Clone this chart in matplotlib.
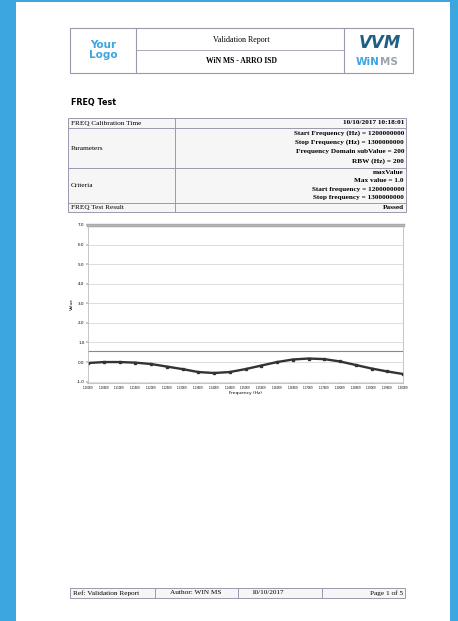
import matplotlib
matplotlib.use("Agg")
from matplotlib import pyplot as plt
from matplotlib.patches import Rectangle
from matplotlib.ticker import MultipleLocator, FuncFormatter

# chart data (frequency in MHz, measured value)
freq_mhz = [1200, 1205, 1210, 1215, 1220, 1225, 1230, 1235, 1240, 1245, 1250,
            1255, 1260, 1265, 1270, 1275, 1280, 1285, 1290, 1295, 1300]
values = [-0.05, 0.0, 0.0, -0.03, -0.10, -0.23, -0.36, -0.51, -0.56, -0.51, -0.36,
          -0.18, 0.0, 0.13, 0.18, 0.15, 0.03, -0.15, -0.33, -0.48, -0.61]
max_limit = 0.56
upper_line = 7.0

# report table text
param_lines = ["Start Frequency (Hz) = 1200000000",
               "Stop Frequency (Hz) = 1300000000",
               "Frequency Domain subValue = 200",
               "RBW (Hz) = 200"]
criteria_lines = ["maxValue", "Max value = 1.0",
                  "Start frequency = 1200000000",
                  "Stop frequency = 1300000000"]
footer_cells = ["Ref: Validation Report", "Author: WIN MS", "10/10/2017", "", "Page 1 of 5"]

W, H = 458, 621
BLUE = "#3ba6e0"
EDGE = "#9a9aae"

fig = plt.figure(figsize=(W / 100, H / 100), dpi=100)
fig.patch.set_facecolor(BLUE)

# page drawn in pixel coordinates
page = fig.add_axes([0, 0, 1, 1])
page.set_xlim(0, W)
page.set_ylim(H, 0)
page.axis("off")
page.add_patch(Rectangle((16, 2), 434, H, facecolor="white", edgecolor="none"))

serif = "Liberation Serif"
fs = 5.2

# header block
page.add_patch(Rectangle((70, 28), 343, 45, facecolor="none", edgecolor=EDGE, lw=0.8))
page.plot([136, 136], [28, 73], color=EDGE, lw=0.8)
page.plot([344, 344], [28, 73], color=EDGE, lw=0.8)
page.plot([136, 344], [50, 50], color=EDGE, lw=0.6)
page.text(103, 50, "Your\nLogo", color=BLUE, fontsize=7.5, fontweight="bold",
          ha="center", va="center", linespacing=1.1)
page.text(241, 40, "Validation Report", fontsize=5.8, family=serif, ha="center", va="center")
page.text(241, 61, "WiN MS - ARRO ISD", fontsize=5.5, family=serif, fontweight="bold",
          ha="center", va="center")
page.text(380, 43, "VVM", color="#1f5f86", fontsize=12, fontweight="heavy",
          fontstyle="italic", ha="center", va="center")
page.text(380, 62, "WiN", color=BLUE, fontsize=7.5, fontweight="bold", ha="right", va="center")
page.text(380, 62, "MS", color="#9aa4ad", fontsize=7.5, fontweight="bold", ha="left", va="center")

page.text(71, 102, "FREQ Test", fontsize=5.8, fontweight="bold", va="center")

# parameter table
tx0, tx1, tcol = 68, 406, 175
rows = [118, 128, 168, 203, 212]
page.add_patch(Rectangle((tx0, rows[0]), tx1 - tx0, rows[-1] - rows[0],
                         facecolor="#f6f6f6", edgecolor=EDGE, lw=0.7))
for r in rows[1:-1]:
    page.plot([tx0, tx1], [r, r], color=EDGE, lw=0.7)
page.plot([tcol, tcol], [rows[0], rows[-1]], color=EDGE, lw=0.7)
left_labels = ["FREQ Calibration Time", "Parameters", "Criteria", "FREQ Test Result"]
for i, lab in enumerate(left_labels):
    page.text(tx0 + 3, (rows[i] + rows[i + 1]) / 2, lab, fontsize=fs, family=serif, va="center")
page.text(tx1 - 2, 123, "10/10/2017 10:18:01", fontsize=fs, family=serif,
          fontweight="bold", ha="right", va="center")
for j, s in enumerate(param_lines):
    page.text(tx1 - 2, 133 + j * 9.5, s, fontsize=fs, family=serif,
              fontweight="bold", ha="right", va="center")
for j, s in enumerate(criteria_lines):
    page.text(tx1 - 2, 172 + j * 8.5, s, fontsize=fs, family=serif,
              fontweight="bold", ha="right", va="center")
page.text(tx1 - 2, 207.5, "Passed", fontsize=fs, family=serif,
          fontweight="bold", ha="right", va="center")

# footer
fx = [70, 155, 238, 322, 405]
page.add_patch(Rectangle((70, 588), 335, 10, facecolor="#f6f6f6", edgecolor=EDGE, lw=0.7))
for x in fx[1:-1]:
    page.plot([x, x], [588, 598], color=EDGE, lw=0.7)
page.text(73, 593, footer_cells[0], fontsize=fs, family=serif, va="center")
page.text(196, 593, footer_cells[1], fontsize=fs, family=serif, ha="center", va="center")
page.text(268, 593, footer_cells[2], fontsize=fs, family=serif, ha="center", va="center")
page.text(403, 593, footer_cells[4], fontsize=fs, family=serif, ha="right", va="center")

# chart
ax = fig.add_axes([88 / W, 1 - 383 / H, (403 - 88) / W, (383 - 225) / H])
ax.plot(freq_mhz, values, color="#333333", lw=1.7, marker="s", ms=1.5)
ax.axhline(max_limit, color="#888888", lw=0.8)
ax.axhline(upper_line, color="#aaaaaa", lw=2.5, clip_on=False)
ax.set_xlim(1200, 1300)
ax.set_ylim(-1.07, 7.0)
ax.yaxis.set_major_locator(MultipleLocator(1))
ax.yaxis.set_major_formatter(FuncFormatter(lambda v, p: f"{v:.1f}"))
ax.xaxis.set_major_locator(MultipleLocator(5))
ax.xaxis.set_major_formatter(FuncFormatter(lambda v, p: f"{v / 1000:.3f}E9"))
ax.set_xticks([1210, 1225, 1240, 1255, 1270, 1285], minor=True)
ax.tick_params(axis="x", which="major", labelsize=1.9, length=1, pad=1, width=0.3)
ax.tick_params(axis="x", which="minor", length=0)
ax.tick_params(axis="y", labelsize=3, length=1.5, pad=1, width=0.3)
ax.grid(True, axis="y", which="major", color="#d0d0d0", lw=0.5)
ax.grid(True, axis="x", which="minor", color="#c8c8c8", lw=0.6)
ax.set_xlabel("Frequency (Hz)", fontsize=3.2, labelpad=1)
ax.set_ylabel("Value", fontsize=3.2, labelpad=2)
for s in ax.spines.values():
    s.set_color("#bbbbbb")
    s.set_linewidth(0.6)

fig.savefig("out.png", dpi=100, facecolor=fig.get_facecolor())
